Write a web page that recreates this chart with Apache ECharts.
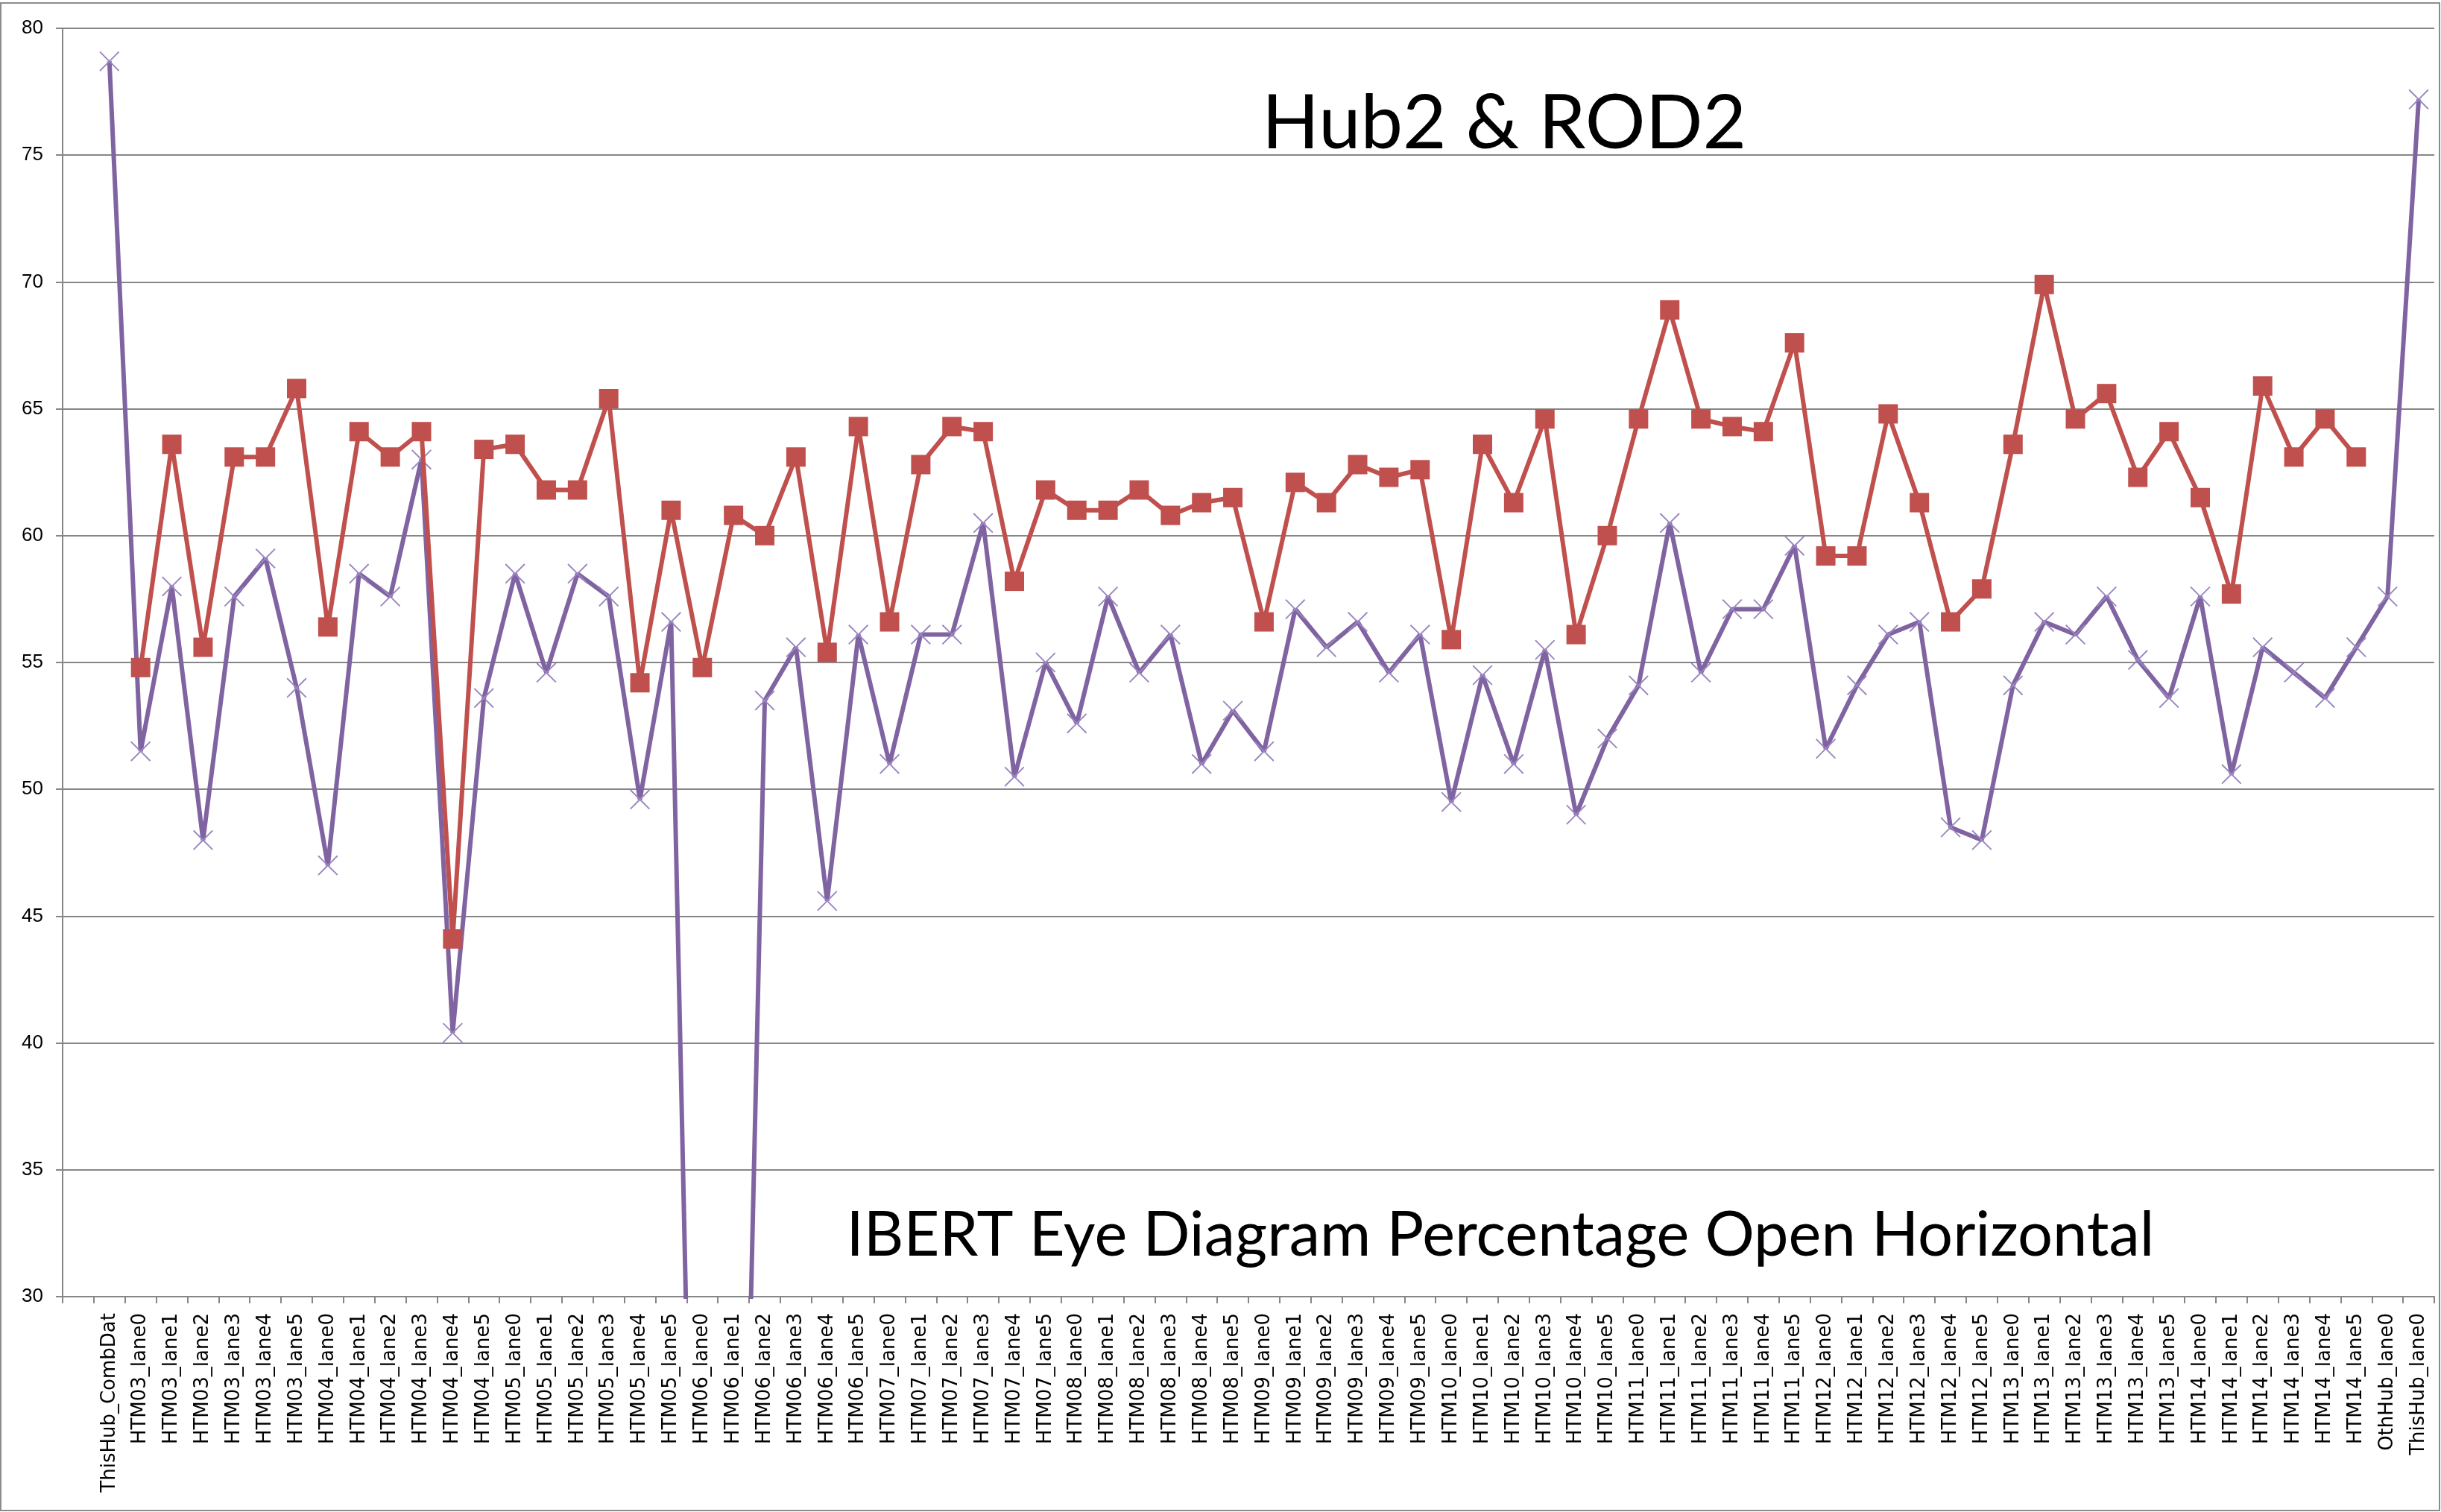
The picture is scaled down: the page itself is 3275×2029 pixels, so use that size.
<!DOCTYPE html>
<html>
<head>
<meta charset="utf-8">
<title>Hub2 & ROD2</title>
<script src="https://cdn.jsdelivr.net/npm/echarts@6/dist/echarts.min.js"></script>
<style>
  html, body { margin: 0; padding: 0; background: #fff; }
  #chart { width: 3275px; height: 2029px; }
</style>
</head>
<body>
<div id="chart"></div>
<script>
// categories (first slot is blank, as in the sheet)
var categories = [
	'', 'ThisHub_CombDat',
	'HTM03_lane0', 'HTM03_lane1', 'HTM03_lane2', 'HTM03_lane3', 'HTM03_lane4', 'HTM03_lane5',
	'HTM04_lane0', 'HTM04_lane1', 'HTM04_lane2', 'HTM04_lane3', 'HTM04_lane4', 'HTM04_lane5',
	'HTM05_lane0', 'HTM05_lane1', 'HTM05_lane2', 'HTM05_lane3', 'HTM05_lane4', 'HTM05_lane5',
	'HTM06_lane0', 'HTM06_lane1', 'HTM06_lane2', 'HTM06_lane3', 'HTM06_lane4', 'HTM06_lane5',
	'HTM07_lane0', 'HTM07_lane1', 'HTM07_lane2', 'HTM07_lane3', 'HTM07_lane4', 'HTM07_lane5',
	'HTM08_lane0', 'HTM08_lane1', 'HTM08_lane2', 'HTM08_lane3', 'HTM08_lane4', 'HTM08_lane5',
	'HTM09_lane0', 'HTM09_lane1', 'HTM09_lane2', 'HTM09_lane3', 'HTM09_lane4', 'HTM09_lane5',
	'HTM10_lane0', 'HTM10_lane1', 'HTM10_lane2', 'HTM10_lane3', 'HTM10_lane4', 'HTM10_lane5',
	'HTM11_lane0', 'HTM11_lane1', 'HTM11_lane2', 'HTM11_lane3', 'HTM11_lane4', 'HTM11_lane5',
	'HTM12_lane0', 'HTM12_lane1', 'HTM12_lane2', 'HTM12_lane3', 'HTM12_lane4', 'HTM12_lane5',
	'HTM13_lane0', 'HTM13_lane1', 'HTM13_lane2', 'HTM13_lane3', 'HTM13_lane4', 'HTM13_lane5',
	'HTM14_lane0', 'HTM14_lane1', 'HTM14_lane2', 'HTM14_lane3', 'HTM14_lane4', 'HTM14_lane5',
	'OthHub_lane0', 'ThisHub_lane0'
];

// purple series (x markers); HTM06_lane0/1 read as 0, off the bottom of the scale
var hubValues = [
	null, 78.7,
	51.5, 58.0, 48.0, 57.6, 59.1, 54.0,
	47.0, 58.5, 57.6, 63.0, 40.4, 53.6,
	58.5, 54.6, 58.5, 57.6, 49.6, 56.6,
	0, 0, 53.5, 55.6, 45.6, 56.1,
	51.0, 56.1, 56.1, 60.5, 50.5, 55.0,
	52.6, 57.6, 54.6, 56.1, 51.0, 53.1,
	51.5, 57.1, 55.6, 56.6, 54.6, 56.1,
	49.5, 54.5, 51.0, 55.5, 49.0, 52.0,
	54.1, 60.5, 54.6, 57.1, 57.1, 59.6,
	51.6, 54.1, 56.1, 56.6, 48.5, 48.0,
	54.1, 56.6, 56.1, 57.6, 55.1, 53.6,
	57.6, 50.6, 55.6, 54.6, 53.6, 55.6,
	57.6, 77.2
];

// red series (square markers)
var rodValues = [
	null, null,
	54.8, 63.6, 55.6, 63.1, 63.1, 65.8,
	56.4, 64.1, 63.1, 64.1, 44.1, 63.4,
	63.6, 61.8, 61.8, 65.4, 54.2, 61.0,
	54.8, 60.8, 60.0, 63.1, 55.4, 64.3,
	56.6, 62.8, 64.3, 64.1, 58.2, 61.8,
	61.0, 61.0, 61.8, 60.8, 61.3, 61.5,
	56.6, 62.1, 61.3, 62.8, 62.3, 62.6,
	55.9, 63.6, 61.3, 64.6, 56.1, 60.0,
	64.6, 68.9, 64.6, 64.3, 64.1, 67.6,
	59.2, 59.2, 64.8, 61.3, 56.6, 57.9,
	63.6, 69.9, 64.6, 65.6, 62.3, 64.1,
	61.5, 57.7, 65.9, 63.1, 64.6, 63.1,
	null, null
];

var yTicks = [30, 35, 40, 45, 50, 55, 60, 65, 70, 75, 80];

var crossPath = 'path://M0,1 L1,0 L10,9 L19,0 L20,1 L11,10 L20,19 L19,20 L10,11 L1,20 L0,19 L9,10 Z';

var myChart = echarts.init(document.getElementById('chart'));

var option = {
	backgroundColor : '#ffffff',
	animation : false,
	grid : {
		left : 84,
		right : 9,
		top : 38,
		bottom : 289
	},
	xAxis : {
		type : 'category',
		data : categories,
		boundaryGap : true,
		axisLine : { lineStyle : { color : '#868686', width : 2 } },
		axisTick : { show : true, length : 9, interval : 0, lineStyle : { color : '#868686', width : 2 } },
		axisLabel : {
			interval : 0,
			rotate : 90,
			margin : 22,
			color : '#000',
			fontFamily : 'DejaVu Sans',
			fontSize : 26
		},
		splitLine : { show : false }
	},
	yAxis : {
		type : 'value',
		min : yTicks[0],
		max : yTicks[yTicks.length - 1],
		interval : 5,
		axisLine : { show : true, lineStyle : { color : '#868686', width : 2 } },
		axisTick : { show : true, length : 9, lineStyle : { color : '#868686', width : 2 } },
		axisLabel : {
			margin : 26,
			color : '#000',
			fontFamily : 'Liberation Sans',
			fontSize : 26
		},
		splitLine : { show : true, lineStyle : { color : '#868686', width : 2 } }
	},
	graphic : [ {
		type : 'rect',
		shape : { x : 1, y : 4, width : 3272, height : 2023 },
		style : { fill : 'none', stroke : '#8c8c8c', lineWidth : 2 },
		z : -1
	}, {
		type : 'text',
		style : {
			x : 2018, y : 166,
			text : 'Hub2 & ROD2',
			font : '101px Lato',
			fill : '#000',
			textAlign : 'center',
			textVerticalAlign : 'middle'
		}
	}, {
		type : 'text',
		style : {
			x : 2013, y : 1658,
			text : 'IBERT Eye Diagram Percentage Open Horizontal',
			font : '83px Lato',
			fill : '#000',
			textAlign : 'center',
			textVerticalAlign : 'middle'
		}
	} ],
	series : [ {
		name : 'Hub2',
		type : 'line',
		data : hubValues,
		clip : true,
		symbol : crossPath,
		symbolSize : 27,
		itemStyle : { color : '#9a86c0' },
		lineStyle : { color : '#8064A2', width : 6 },
		z : 2
	}, {
		name : 'ROD2',
		type : 'line',
		data : rodValues,
		clip : true,
		symbol : 'rect',
		symbolSize : 26,
		itemStyle : { color : '#C0504D' },
		lineStyle : { color : '#C0504D', width : 6 },
		z : 3
	} ]
};
myChart.setOption(option);
</script>
</body>
</html>
